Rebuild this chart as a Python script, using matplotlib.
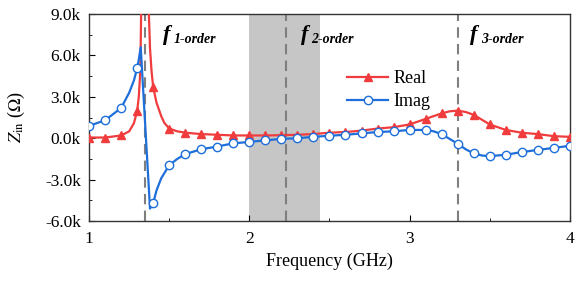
import matplotlib
matplotlib.use("Agg")
import matplotlib.pyplot as plt
from matplotlib.ticker import FuncFormatter, MultipleLocator

# line samples (GHz, kOhm); markers sit on the 0.1 GHz grid
real_freq = [1.0, 1.1, 1.2, 1.25, 1.28, 1.3, 1.31, 1.32, 1.325, 1.35, 1.37, 1.38,
             1.39, 1.4, 1.42, 1.45, 1.47, 1.5, 1.55, 1.6, 1.7, 1.8, 1.9, 2.0,
             2.1, 2.2, 2.3, 2.4, 2.5, 2.6, 2.7, 2.8, 2.9, 3.0, 3.1, 3.2, 3.25,
             3.3, 3.35, 3.4, 3.45, 3.5, 3.6, 3.7, 3.8, 3.9, 4.0]
real_vals = [0.05, 0.05, 0.2, 0.5, 1.1, 2.0, 3.0, 5.0, 9.5, 14.0, 10.0, 6.5,
             4.8, 3.7, 2.6, 1.6, 1.1, 0.7, 0.5, 0.4, 0.3, 0.25, 0.2, 0.2,
             0.2, 0.22, 0.25, 0.3, 0.4, 0.45, 0.55, 0.7, 0.8, 1.0, 1.4, 1.8, 1.95,
             2.0, 1.9, 1.7, 1.35, 1.0, 0.6, 0.4, 0.3, 0.15, 0.1]

imag_freq = [1.0, 1.1, 1.2, 1.25, 1.28, 1.3, 1.31, 1.322, 1.38, 1.4, 1.42, 1.45,
             1.5, 1.55, 1.6, 1.7, 1.8, 1.9, 2.0, 2.1, 2.2, 2.3, 2.4, 2.5, 2.6,
             2.7, 2.8, 2.9, 3.0, 3.1, 3.15, 3.2, 3.25, 3.3, 3.35, 3.4, 3.45, 3.5,
             3.6, 3.7, 3.8, 3.9, 4.0]
imag_vals = [0.9, 1.3, 2.2, 3.3, 4.2, 5.1, 5.7, 6.6, -5.1, -4.7, -3.8, -2.9,
             -1.95, -1.5, -1.15, -0.8, -0.6, -0.37, -0.27, -0.15, -0.05, 0.0, 0.1,
             0.18, 0.25, 0.35, 0.45, 0.5, 0.6, 0.6, 0.5, 0.3, -0.05, -0.4, -0.8,
             -1.1, -1.25, -1.3, -1.2, -1.0, -0.85, -0.7, -0.55]

order_freqs = [1.35, 2.23, 3.30]
order_labels = ["1-order", "2-order", "3-order"]
order_text_x = [1.46, 2.32, 3.38]
band = (2.0, 2.44)


def on_grid(freqs):
    return [i for i, f in enumerate(freqs) if abs(round(f * 10) - f * 10) < 1e-6]


plt.rcParams["font.family"] = "Liberation Serif"
plt.rcParams["mathtext.fontset"] = "stix"

fig = plt.figure(figsize=(5.75, 2.81), dpi=100)
ax = fig.add_axes([0.155, 0.2135, 0.836, 0.7365])

ax.axvspan(*band, color="#C6C6C6", lw=0, zorder=0)
for f in order_freqs:
    ax.axvline(f, color="#7F7F7F", lw=1.5, ls=(0, (5, 3)), zorder=1)

ax.plot(real_freq, real_vals, color="#F03C3C", lw=1.6, marker="^", ms=6,
        markevery=on_grid(real_freq), label="Real", zorder=3)
ax.plot(imag_freq, imag_vals, color="#1E6FD9", lw=1.6, marker="o", ms=6,
        mfc="white", mec="#1E6FD9", mew=1.0,
        markevery=on_grid(imag_freq), label="Imag", zorder=3)

ax.set_xlim(1, 4)
ax.set_ylim(-6, 9)
ax.xaxis.set_major_locator(MultipleLocator(1))
ax.xaxis.set_minor_locator(MultipleLocator(0.5))
ax.yaxis.set_major_locator(MultipleLocator(3))
ax.yaxis.set_minor_locator(MultipleLocator(1.5))
ax.yaxis.set_major_formatter(FuncFormatter(lambda v, _: f"{v:.1f}k"))
ax.tick_params(which="both", direction="in", labelsize=12.5)
ax.tick_params(which="major", length=4)
ax.tick_params(which="minor", length=2.5)
ax.tick_params(axis="y", which="major", pad=6)
ax.tick_params(axis="x", which="major", pad=7)
for s in ax.spines.values():
    s.set_linewidth(1.0)
    s.set_color("#333333")

ax.set_xlabel("Frequency (GHz)", fontsize=13)
ax.set_ylabel(r"$Z_{\mathrm{in}}$ ($\Omega$)", fontsize=13, labelpad=13)

for x, lab in zip(order_text_x, order_labels):
    ax.annotate("f", (x, 7.1), fontsize=16, fontweight="bold", style="italic",
                ha="left", va="baseline")
    ax.annotate(lab, (x, 7.1), xytext=(7.5, -2), textcoords="offset points",
                fontsize=10, fontweight="bold", style="italic",
                ha="left", va="baseline")

ax.legend(loc="upper left", bbox_to_anchor=(0.51, 0.79), frameon=False,
          fontsize=13, handlelength=2.3, handletextpad=0.3, labelspacing=0.35,
          borderpad=0.2)

fig.savefig("out.png", dpi=100)
